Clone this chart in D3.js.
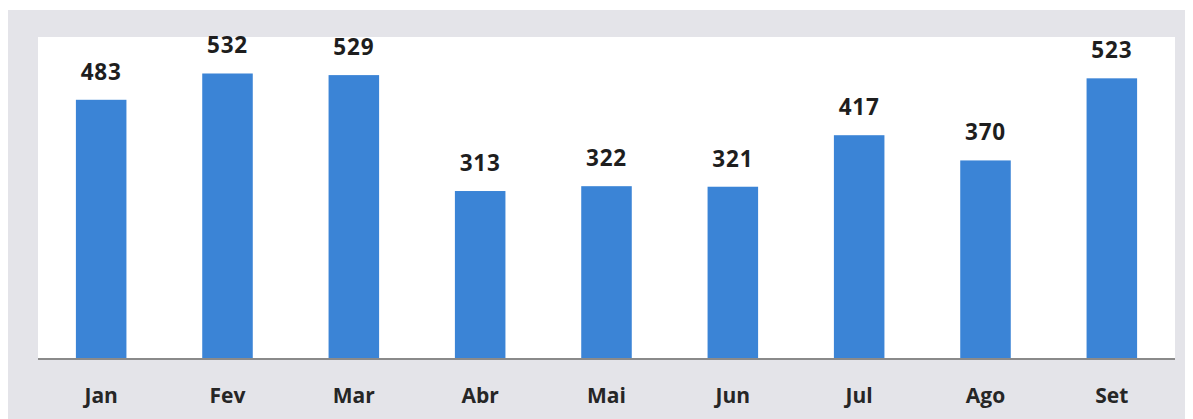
<!DOCTYPE html>
<html><head><meta charset="utf-8">
<script src="https://cdn.jsdelivr.net/npm/d3@7"></script>
<style>
html,body{margin:0;padding:0;background:#fff;}
svg{display:block;}
</style></head>
<body>
<svg id="chart" width="1193" height="419"></svg>
<script>
const categories = ["Jan","Fev","Mar","Abr","Mai","Jun","Jul","Ago","Set"];
const values = [483, 532, 529, 313, 322, 321, 417, 370, 523];

const W = 1193, H = 419;
const svg = d3.select("#chart");
const plot = {left: 38, right: 1175, top: 37, bottom: 359};

// outer gray panel
svg.append("rect").attr("x", 8).attr("y", 10).attr("width", 1177).attr("height", H - 10).attr("fill", "#e4e4e9");
// white plot area
svg.append("rect").attr("x", plot.left).attr("y", plot.top)
  .attr("width", plot.right - plot.left).attr("height", plot.bottom - plot.top).attr("fill", "#ffffff");

const x = d3.scaleBand().domain(categories).range([plot.left, plot.right]).paddingInner(0.6).paddingOuter(0.3);
const y = d3.scaleLinear().domain([0, 600]).range([plot.bottom, plot.top]);

const data = categories.map((c, i) => ({c, v: values[i]}));

svg.append("g").selectAll("rect").data(data).join("rect")
  .attr("x", d => x(d.c)).attr("y", d => y(d.v))
  .attr("width", x.bandwidth()).attr("height", d => y(0) - y(d.v))
  .attr("fill", "#3b84d6");

svg.append("g").selectAll("text").data(data).join("text")
  .attr("x", d => x(d.c) + x.bandwidth() / 2).attr("y", d => y(d.v) - 20)
  .attr("text-anchor", "middle")
  .attr("font-family", "'Open Sans', sans-serif").attr("font-weight", "bold")
  .attr("font-size", 22.5).attr("letter-spacing", 0.8).attr("fill", "#1e1e1e")
  .text(d => d.v);

const xAxis = d3.axisBottom(x).tickSize(0).tickPadding(0);
const gx = svg.append("g").attr("transform", `translate(0,${plot.bottom})`).call(xAxis);
gx.select(".domain").attr("stroke", "#8a8a8a").attr("stroke-width", 2)
  .attr("d", `M${plot.left},0H${plot.right}`);
gx.selectAll("text")
  .attr("y", 44).attr("dy", null)
  .attr("font-family", "'Open Sans', sans-serif").attr("font-weight", "bold")
  .attr("font-size", 21).attr("fill", "#262626");
</script>
</body></html>
